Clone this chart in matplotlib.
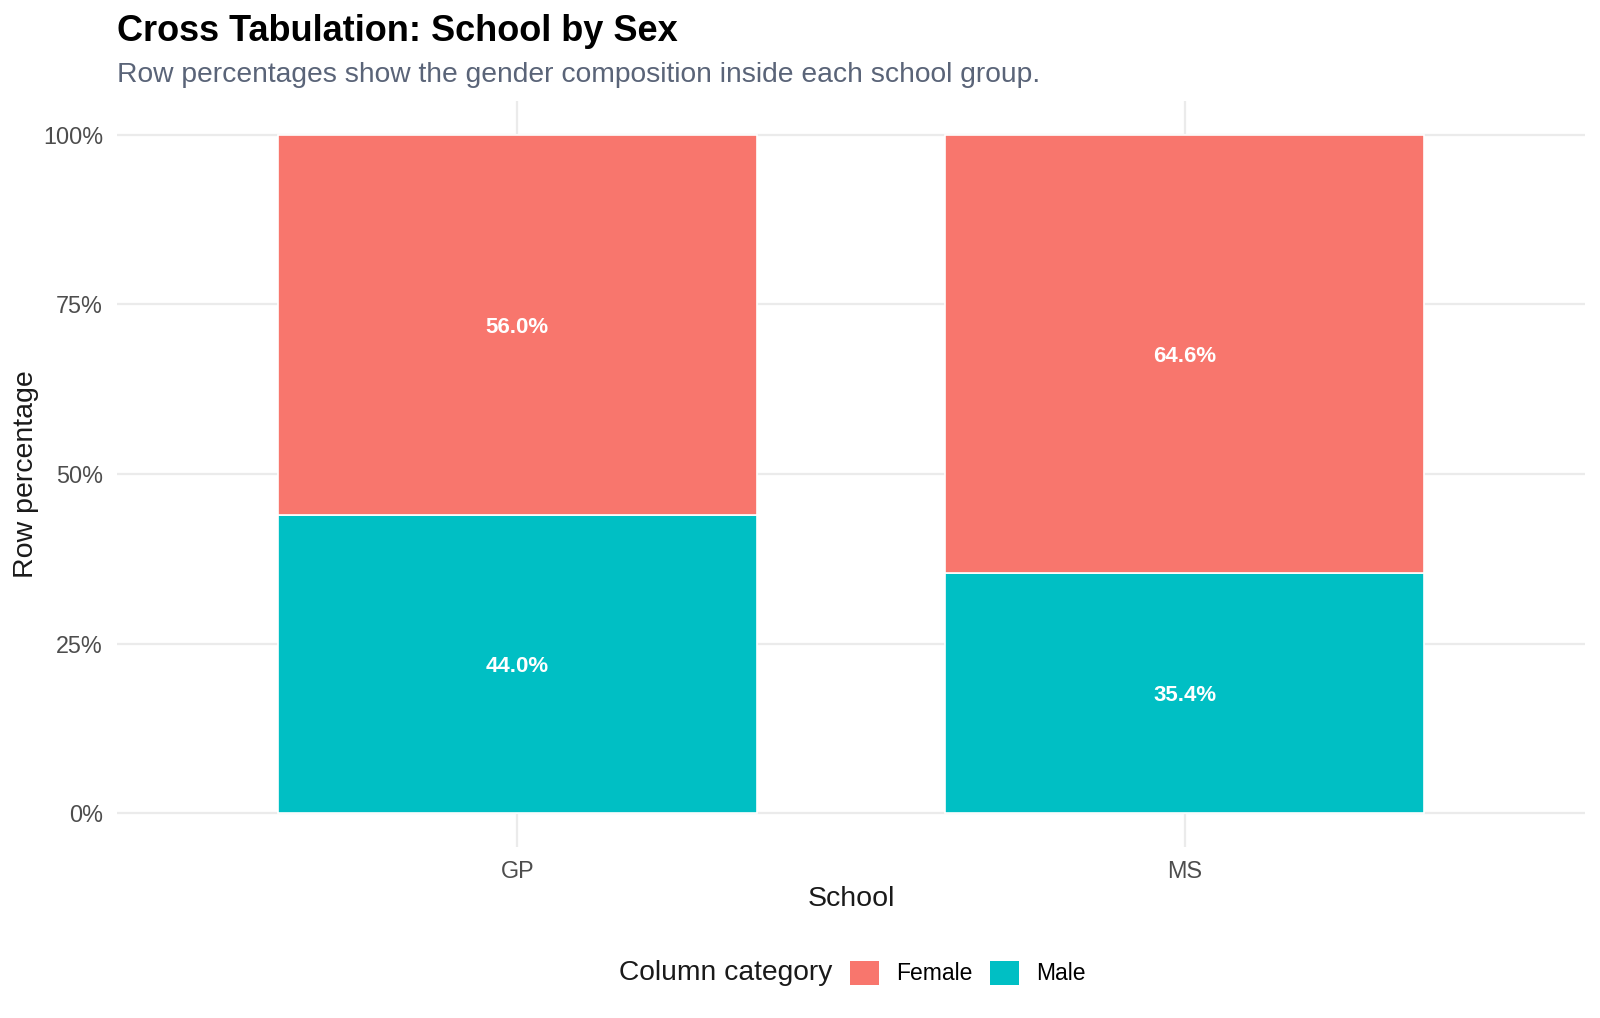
import matplotlib
matplotlib.use("Agg")
import matplotlib.pyplot as plt
from matplotlib.patches import Patch
import numpy as np

plt.rcParams['font.family'] = ['Liberation Sans', 'DejaVu Sans']

schools = ["GP", "MS"]
categories = ["Female", "Male"]
male_pct = [44.0, 35.4]
female_pct = [56.0, 64.6]
colors = {"Female": "#F8766D", "Male": "#00BFC4"}
yticks = [0, 25, 50, 75, 100]
ytick_labels = ["0%", "25%", "50%", "75%", "100%"]

fig = plt.figure(figsize=(16, 10.18), dpi=100)
ax = fig.add_axes([117/1600, 1-847.2/1018, 1468/1600, 746.5/1018])

x = np.arange(len(schools))
m = np.array(male_pct) / 100
f = np.array(female_pct) / 100
w = 0.717
ax.bar(x, m, width=w, color=colors["Male"], edgecolor="white", linewidth=1.2, zorder=3)
ax.bar(x, f, width=w, bottom=m, color=colors["Female"], edgecolor="white", linewidth=1.2, zorder=3)

for xi, mv, fv in zip(x, m, f):
    ax.text(xi, mv/2, f"{mv*100:.1f}%", ha="center", va="center_baseline", color="white",
            fontsize=16, fontweight="bold", zorder=4)
    ax.text(xi, mv + fv/2, f"{fv*100:.1f}%", ha="center", va="center_baseline", color="white",
            fontsize=16, fontweight="bold", zorder=4)

ax.set_xlim(-0.6, 1.6)
ax.set_ylim(-0.05, 1.05)
ax.set_xticks(x)
ax.set_xticklabels(schools)
ax.set_yticks(np.array(yticks)/100)
ax.set_yticklabels(ytick_labels)
ax.tick_params(axis="both", length=0, labelsize=16.8, labelcolor="#4D4D4D")
ax.tick_params(axis="y", pad=10)
ax.tick_params(axis="x", pad=9)
for s in ax.spines.values():
    s.set_visible(False)
ax.grid(True, color="#EBEBEB", linewidth=1.6, zorder=0)
ax.set_axisbelow(True)

ax.set_xlabel("School", fontsize=20.5, color="#1A1A1A")
ax.xaxis.set_label_coords(0.5, -(899-847.2)/746.5)
ax.xaxis.label.set_va("center")
ax.set_ylabel("Row percentage", fontsize=20.5, color="#1A1A1A")
ax.yaxis.set_label_coords(-(117-26.5)/1468, 0.5)
ax.yaxis.label.set_va("center")

fig.text(117/1600, 1-31.5/1018, "Cross Tabulation: School by Sex", fontsize=26,
         fontweight="bold", ha="left", va="center", color="black")
fig.text(117/1600, 1-75.5/1018, "Row percentages show the gender composition inside each school group.",
         fontsize=20.3, ha="left", va="center", color="#5A6478")

fig.text(619/1600, 1-973/1018, "Column category", fontsize=20.3, ha="left", va="center",
         color="#1A1A1A")
handles = [Patch(facecolor=colors[c], edgecolor="none", label=c) for c in categories]
fig.legend(handles=handles, loc="center left", bbox_to_anchor=(850/1600, 1-973/1018),
           ncol=2, frameon=False, fontsize=16.5, handlelength=1.27, handleheight=1.27,
           handletextpad=0.74, columnspacing=0.75, borderaxespad=0, borderpad=0)

fig.savefig("out.png", dpi=100, facecolor="white")
